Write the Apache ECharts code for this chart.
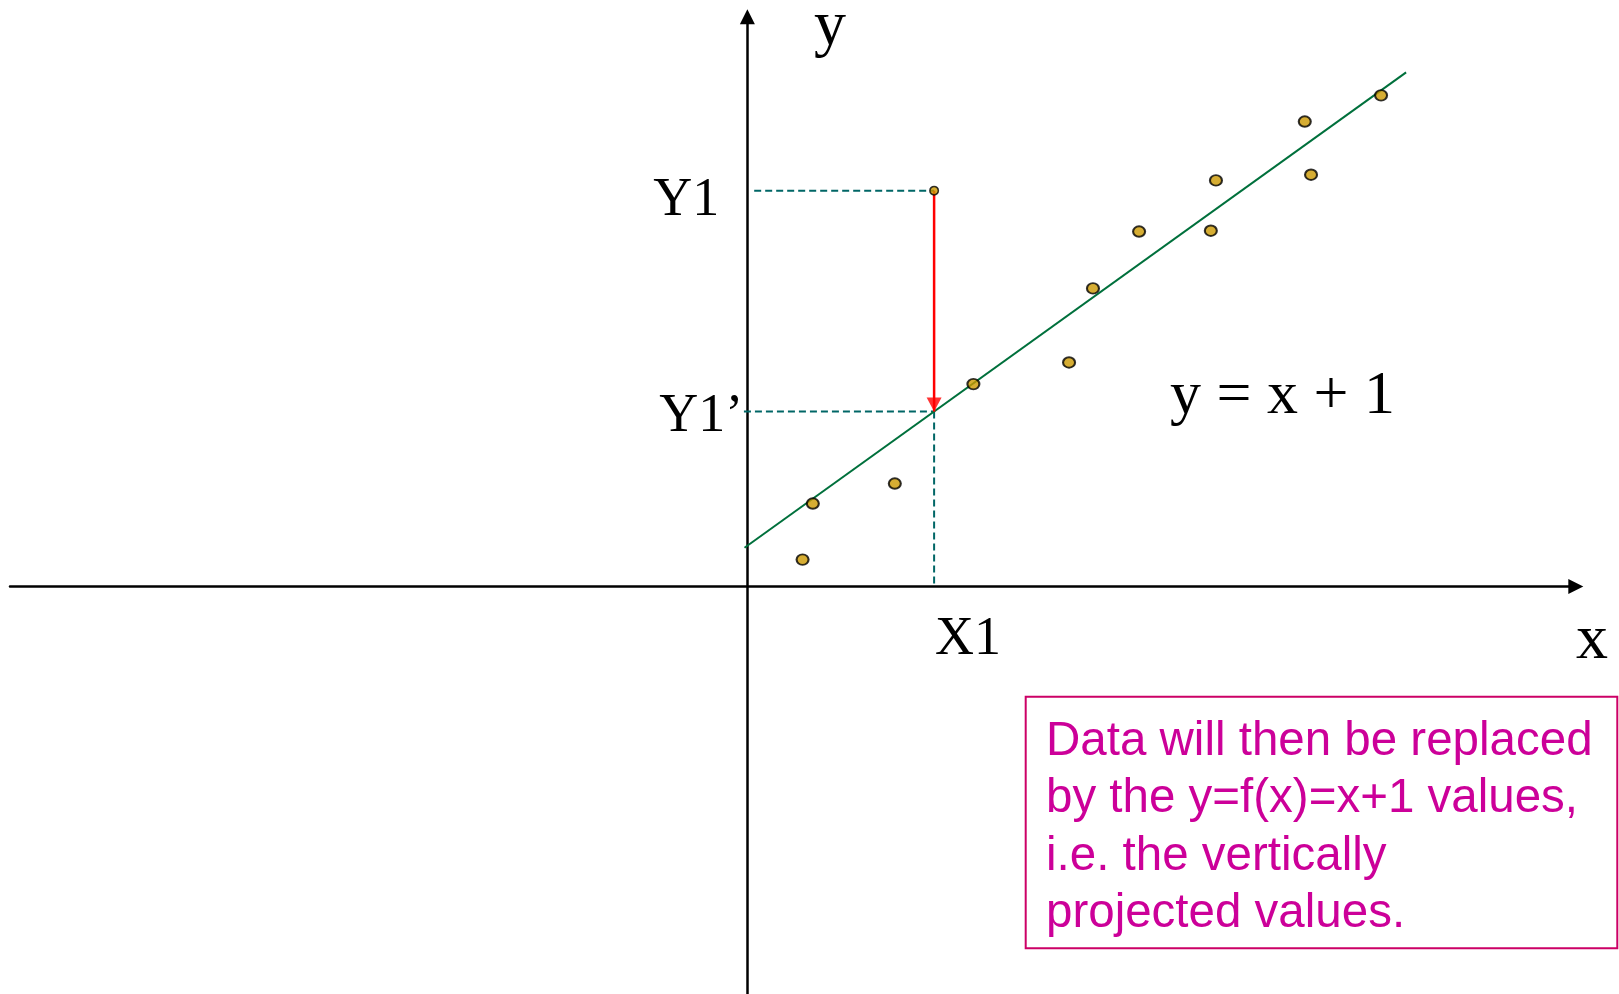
<!DOCTYPE html>
<html>
<head>
<meta charset="utf-8">
<script src="https://cdn.jsdelivr.net/npm/echarts@6/dist/echarts.min.js"></script>
<style>
  html, body { margin: 0; padding: 0; background: #fff; }
  #chart { width: 1619px; height: 994px; }
</style>
</head>
<body>
<div id="chart"></div>
<script>
// sample points (plot units, fit is y = x + 1)
const pointX = [0.97, 1.15, 2.59, 3.97, 5.65, 6.07, 6.88, 8.14, 8.23, 9.79, 9.90, 11.13];
const pointY = [0.66, 2.03, 2.52, 4.95, 5.48, 7.29, 8.68, 8.70, 9.93, 11.37, 10.07, 12.01];

// the highlighted point and where it lands on the line
const x1 = 3.28;
const y1 = 9.68;
const y1Proj = 4.28;

// ends of the drawn fit line
const lineX = [-0.05, 11.57];
const lineY = [0.95, 12.57];

// where the dashed guides start on the y axis
const guideStartY1 = 0.12;
const guideStartProj = -0.06;

// visible extent of both axes
const xMin = -12.95, xMax = 14.55;
const yMin = -9.96, yMax = 13.93;

const serif = "'Liberation Serif', 'Times New Roman', serif";
const sans = "'Liberation Sans', Arial, sans-serif";

const chart = echarts.init(document.getElementById('chart'));

const axisCommon = {
  type: 'value',
  axisLine: {
    show: true,
    onZero: true,
    symbol: ['none', 'triangle'],
    symbolSize: [15, 15],
    lineStyle: { color: '#000', width: 2.5 }
  },
  axisTick: { show: false },
  axisLabel: { show: false },
  splitLine: { show: false }
};

const dashStyle = { color: '#006666', width: 2, type: [7, 4] };

const option = {
  animation: false,
  backgroundColor: '#fff',
  grid: { left: 10, right: 43.2, top: 16.8, bottom: 0, outerBoundsMode: 'none' },
  xAxis: Object.assign({}, axisCommon, { min: xMin, max: xMax }),
  yAxis: Object.assign({}, axisCommon, { min: yMin, max: yMax }),
  series: [
    {
      name: 'fit',
      type: 'line',
      data: lineX.map((x, i) => [x, lineY[i]]),
      symbol: 'none',
      lineStyle: { color: '#00703C', width: 2 },
      z: 2
    },
    {
      name: 'guide Y1',
      type: 'line',
      data: [[guideStartY1, y1], [x1, y1]],
      symbol: 'none',
      lineStyle: dashStyle,
      z: 1,
      markPoint: {
        symbolSize: 0,
        silent: true,
        label: {
          show: true, formatter: 'Y1', position: [-28, 10],
          align: 'right', verticalAlign: 'middle',
          fontSize: 54, fontFamily: serif, color: '#000'
        },
        data: [{ coord: [0, y1] }]
      }
    },
    {
      name: 'guide Y1 projected',
      type: 'line',
      data: [[guideStartProj, y1Proj], [x1, y1Proj]],
      symbol: 'none',
      lineStyle: dashStyle,
      z: 1,
      markPoint: {
        symbolSize: 0,
        silent: true,
        label: {
          show: true, formatter: 'Y1\u2019', position: [-4, 5],
          align: 'right', verticalAlign: 'middle',
          fontSize: 54, fontFamily: serif, color: '#000'
        },
        data: [{ coord: [0, y1Proj] }]
      }
    },
    {
      name: 'guide X1',
      type: 'line',
      data: [[x1, y1Proj], [x1, 0]],
      symbol: 'none',
      lineStyle: dashStyle,
      z: 1,
      markPoint: {
        symbolSize: 0,
        silent: true,
        label: {
          show: true, formatter: 'X1', position: [1, 53],
          align: 'left', verticalAlign: 'middle',
          fontSize: 54, fontFamily: serif, color: '#000'
        },
        data: [{ coord: [x1, 0] }]
      }
    },
    {
      name: 'projection',
      type: 'line',
      data: [[x1, y1], [x1, y1Proj]],
      symbol: 'none',
      lineStyle: { color: '#FF0000', width: 2.5 },
      z: 3
    },
    {
      name: 'projection head',
      type: 'scatter',
      data: [[x1, y1Proj]],
      symbol: 'triangle',
      symbolRotate: 180,
      symbolSize: [15, 14],
      symbolOffset: [0, -7],
      itemStyle: { color: '#FF0000' },
      silent: true,
      z: 3
    },
    {
      name: 'samples',
      type: 'scatter',
      data: pointX.map((x, i) => [x, pointY[i]]),
      symbol: 'circle',
      symbolSize: [12, 10.5],
      itemStyle: { color: '#CC9900', borderColor: '#000', borderWidth: 2 },
      z: 4
    },
    {
      name: 'Y1 sample',
      type: 'scatter',
      data: [[x1, y1]],
      symbol: 'circle',
      symbolSize: 8.5,
      itemStyle: { color: '#CC9900', borderColor: '#000', borderWidth: 1.5 },
      z: 4
    }
  ],
  graphic: [
    {
      type: 'text', x: 814, y: 27,
      style: { text: 'y', font: '64px ' + serif, fill: '#000', verticalAlign: 'middle' }
    },
    {
      type: 'text', x: 1576, y: 641,
      style: { text: 'x', font: '64px ' + serif, fill: '#000', verticalAlign: 'middle' }
    },
    {
      type: 'text', x: 1170, y: 396.5,
      style: { text: 'y = x + 1', font: '62px ' + serif, fill: '#000', verticalAlign: 'middle' }
    },
    {
      type: 'rect',
      shape: { x: 1025.7, y: 696.7, width: 591.6, height: 251.6 },
      style: { fill: 'none', stroke: '#CC0066', lineWidth: 2 }
    },
    {
      type: 'text', x: 1046, y: 713,
      style: {
        text: 'Data will then be replaced\nby the y=f(x)=x+1 values,\ni.e. the vertically\nprojected values.',
        font: '47.5px ' + sans, fill: '#CC0099', lineHeight: 57.5, verticalAlign: 'top'
      }
    }
  ]
};

chart.setOption(option);
</script>
</body>
</html>
